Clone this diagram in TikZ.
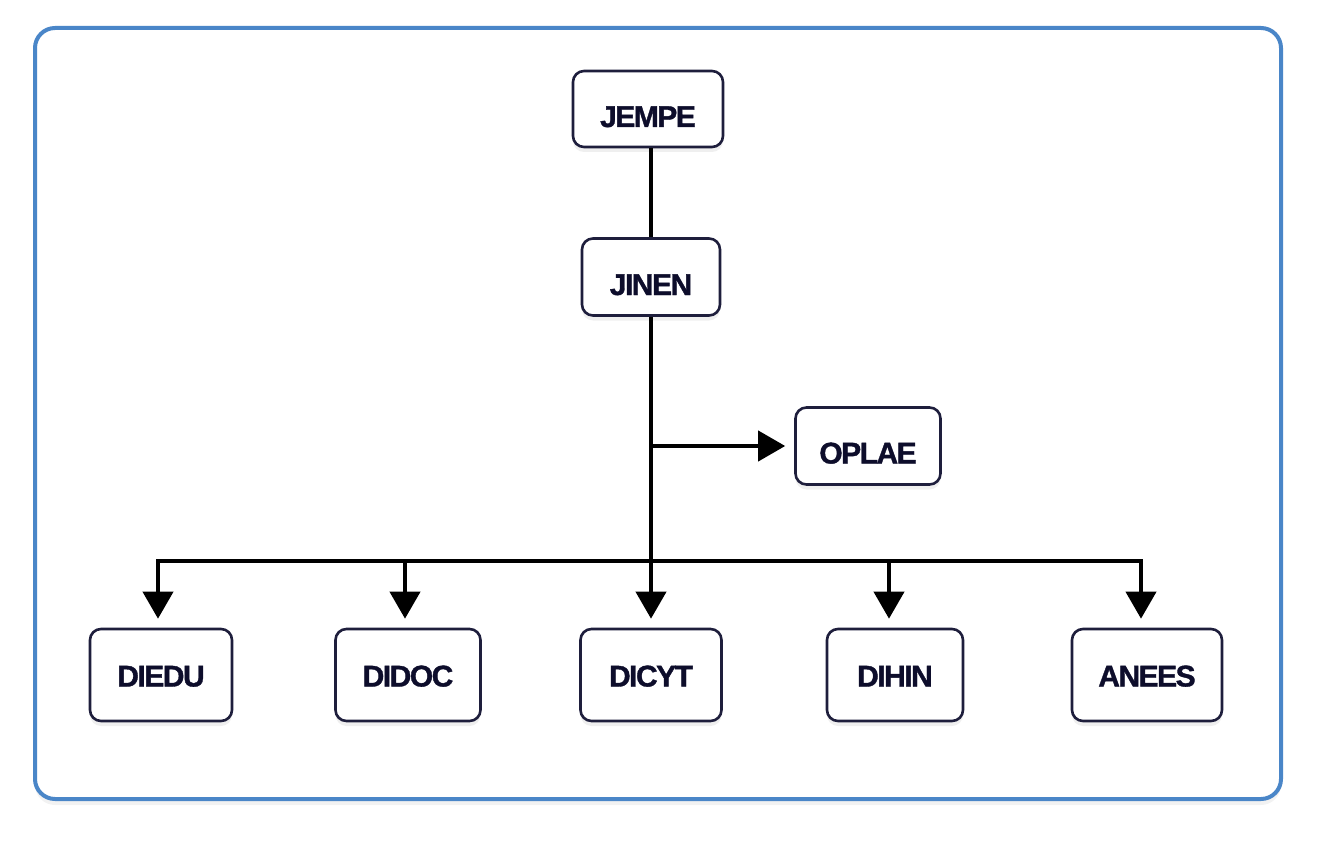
\documentclass[tikz,border=0pt]{standalone}
\usepackage{fontspec}
\setmainfont{Liberation Sans}
\newfontfamily\labfont[FakeBold=1.2, LetterSpace=-5]{Liberation Sans Bold}
\usetikzlibrary{arrows.meta,shadows,calc}
\definecolor{frameblue}{HTML}{4A86C8}
\definecolor{navy}{HTML}{1E1E3C}
\definecolor{textnavy}{HTML}{0D0D2B}
\newcommand{\dn}[2]{\raisebox{-#1pt}[0pt][0pt]{#2}}
\tikzset{
  box/.style={draw=navy, line width=2.6pt, rounded corners=11pt, fill=white,
    font=\labfont\fontsize{30}{32}\selectfont, text=textnavy, inner sep=0pt,
    drop shadow={opacity=0.12, shadow xshift=0pt, shadow yshift=-5pt}},
  conn/.style={line width=4pt, black},
  arr/.style={conn, -{Triangle[width=30pt,length=27pt]}, shorten >=9pt},
}
\begin{document}
\begin{tikzpicture}[x=1pt,y=-1pt]
\useasboundingbox (0,0) rectangle (1318,845);
\draw[line width=4pt, frameblue, rounded corners=20pt, fill=white,
  drop shadow={opacity=0.10, shadow xshift=0pt, shadow yshift=-6pt}]
  (35,28) rectangle (1281,799);
\node[box, minimum width=150pt, minimum height=76pt] (jempe) at (648,109) {\dn{18}{JEMPE}};
\node[box, minimum width=138pt, minimum height=77pt] (jinen) at (651,277) {\dn{18}{JINEN}};
\node[box, minimum width=145pt, minimum height=77pt] (oplae) at (868,446) {\dn{17.5}{OPLAE}};
\node[box, minimum width=142pt, minimum height=92pt] (diedu) at (161,675) {\dn{11.5}{DIEDU}};
\node[box, minimum width=145pt, minimum height=92pt] (didoc) at (408,675) {\dn{11.5}{DIDOC}};
\node[box, minimum width=141pt, minimum height=92pt] (dicyt) at (651,675) {\dn{11.5}{DICYT}};
\node[box, minimum width=136pt, minimum height=92pt] (dihin) at (895,675) {\dn{11.5}{DIHIN}};
\node[box, minimum width=150pt, minimum height=92pt] (anees) at (1147,675) {\dn{11.5}{ANEES}};
\coordinate (split) at (651,446);
\coordinate (busL) at (158,561);
\coordinate (bus2) at (405,561);
\coordinate (busM) at (651,561);
\coordinate (bus4) at (889,561);
\coordinate (busR) at (1141,561);
\draw[conn] (jempe.south -| split) -- (jinen.north -| split);
\draw[conn] (jinen.south -| split) -- (busM);
\draw[arr] (split) -- (oplae.west);
\draw[conn, line cap=rect] (busL) -- (busR);
\draw[arr] (busL) -- (busL |- diedu.north);
\draw[arr] (bus2) -- (bus2 |- didoc.north);
\draw[arr] (busM) -- (dicyt.north);
\draw[arr] (bus4) -- (bus4 |- dihin.north);
\draw[arr] (busR) -- (busR |- anees.north);
\end{tikzpicture}
\end{document}
